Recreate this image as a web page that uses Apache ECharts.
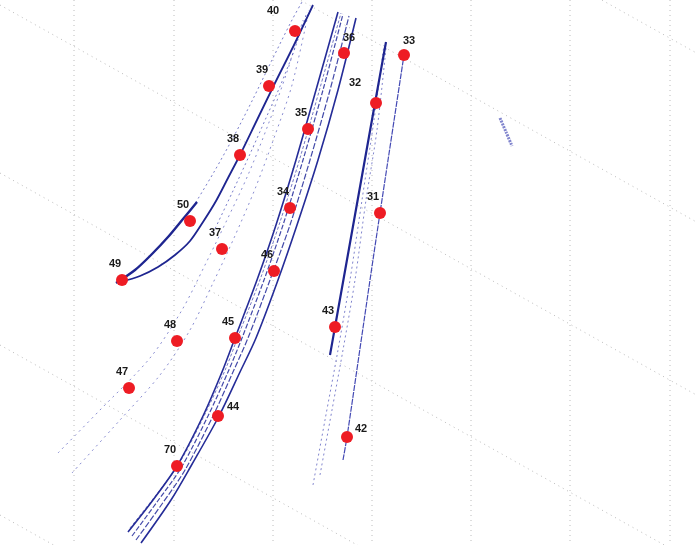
<!DOCTYPE html>
<html>
<head>
<meta charset="utf-8">
<script src="https://cdn.jsdelivr.net/npm/echarts@6/dist/echarts.min.js"></script>
<style>
  html, body { margin: 0; padding: 0; background: #fff; }
  #chart { width: 698px; height: 545px; }
</style>
</head>
<body>
<div id="chart"></div>
<script>
// stations (image units, y grows downward)
var stationNames = ['40', '39', '38', '35', '34', '37', '50', '49', '46', '36', '33', '32', '31', '43', '48', '45', '47', '44', '70', '42']
var stationX = [295, 269, 240, 308, 290, 222, 190, 122, 274, 344, 404, 376, 380, 335, 177, 235, 129, 218, 177, 347]
var stationY = [31, 86, 155, 129, 208, 249, 221, 280, 271, 53, 55, 103, 213, 327, 341, 338, 388, 416, 466, 437]

// graticule
var meridianX = [74, 174, 273, 372, 471, 570, 670]
var parallelY0 = [-337, -168, 5, 173, 345, 515]
var parallelSlope = 0.56

// tracks, left arc
var arcShort = [[116, 283], [135, 270], [152, 254], [168, 237], [183, 219], [197, 202]]
var arcLong = [[120, 282], [140, 276], [158, 267], [175, 255], [190, 241], [203, 222], [216, 201], [228, 178], [240, 155], [257, 120], [275, 83], [294, 45], [313, 5]]
var arcFaint1 = [[193, 207], [214, 172], [234, 136], [253, 99], [272, 60], [292, 20], [302, 2]]
var arcFaint2 = [[213, 233], [232, 193], [250, 154], [266, 118], [281, 84], [295, 48], [307, 12]]
var arcFaint3 = [[58, 453], [100, 410], [150, 358], [182, 310], [205, 265], [226, 222], [248, 175], [268, 125], [287, 72], [303, 20]]
var arcFaint4 = [[72, 473], [120, 420], [160, 375], [190, 330], [213, 283], [234, 238], [255, 189], [274, 138], [292, 85], [309, 10]]

// tracks, middle bundle
var midTrack1 = [[128, 532], [153, 500], [177, 466], [203, 416], [222, 372], [235, 338], [257, 280], [276, 225], [296, 160], [316, 90], [338, 12]]
var midTrack2 = [[132, 536], [157, 502], [181, 468], [208, 416], [228, 372], [242, 338], [264, 280], [283, 225], [303, 160], [323, 90], [343, 14]]
var midTrack3 = [[136, 540], [162, 504], [185, 470], [213, 416], [233, 372], [248, 338], [270, 280], [290, 225], [310, 160], [330, 90], [349, 16]]
var midTrack4 = [[141, 543], [171, 500], [191, 466], [219, 416], [240, 372], [256, 338], [278, 280], [297, 225], [318, 160], [338, 90], [356, 18]]
var midTrack5 = [[130, 528], [156, 495], [180, 462], [206, 412], [226, 368], [239, 334], [261, 277], [280, 222], [300, 158], [320, 88], [341, 13]]

// tracks, right pair
var rightMain = [[330, 355], [335, 327], [375, 103], [386, 42]]
var rightThin = [[343, 460], [347, 437], [370, 280], [380, 213], [404, 55]]
var rightFaint1 = [[313, 485], [325, 420], [338, 350], [350, 280], [362, 200], [374, 120], [384, 45]]
var rightFaint2 = [[320, 475], [332, 410], [343, 350], [355, 280], [366, 200], [377, 130], [386, 48]]

// small streak
var streak = [[500, 118], [506, 132], [512, 146]]

var labelShift = {
  '40': [-22, -4], '32': [-21, -4], '36': [5, 1], '33': [5, 2], '44': [15, 7], '42': [14, 8]
}

var chart = echarts.init(document.getElementById('chart'))

var series = []

meridianX.forEach(function(x) {
  series.push({
    type: 'line', silent: true, symbol: 'none',
    data: [[x, 0], [x, 545]],
    lineStyle: { color: '#bcbcbc', width: 1, type: [1, 4] }
  })
})
parallelY0.forEach(function(b) {
  series.push({
    type: 'line', silent: true, symbol: 'none',
    data: [[0, b], [698, b + parallelSlope * 698]],
    lineStyle: { color: '#bcbcbc', width: 1, type: [1, 4] }
  })
})

function track(data, width, color, type, opacity) {
  series.push({
    type: 'line', silent: true, symbol: 'none', smooth: 0.3,
    data: data,
    lineStyle: { color: color, width: width, type: type || 'solid', opacity: opacity == null ? 1 : opacity }
  })
}

track(arcFaint1, 1, '#4a50b8', [2, 3], 0.75)
track(arcFaint2, 1, '#4a50b8', [2, 3], 0.75)
track(arcFaint3, 1, '#4a50b8', [2, 4], 0.65)
track(arcFaint4, 1, '#4a50b8', [2, 4], 0.65)
track(arcShort, 2.4, '#1e2590')
track(arcLong, 1.8, '#1e2590')

track(midTrack5, 1, '#3a40a8', [3, 2], 0.7)
track(midTrack1, 1.6, '#252c98')
track(midTrack2, 1.2, '#2e35a0', [5, 2], 0.9)
track(midTrack3, 1.2, '#2e35a0', [6, 2], 0.9)
track(midTrack4, 1.6, '#252c98')

track(rightFaint1, 1, '#4a50b8', [2, 3], 0.7)
track(rightFaint2, 1, '#4a50b8', [2, 3], 0.7)
track(rightThin, 1.2, '#3a40b0', [6, 1], 0.95)
track(rightMain, 2.2, '#1e2590')

track(streak, 3, '#4a50b8', [2, 1], 0.7)

series.push({
  type: 'scatter',
  symbolSize: 12,
  itemStyle: { color: '#ee1c24', opacity: 1 },
  z: 5,
  data: stationNames.map(function(name, i) {
    var shift = labelShift[name] || [-7, 0]
    return {
      name: name,
      value: [stationX[i], stationY[i]],
      label: { offset: shift }
    }
  }),
  label: {
    show: true,
    position: 'top',
    distance: 5,
    formatter: '{b}',
    color: '#1a1a1a',
    fontSize: 11,
    fontWeight: 'bold',
    fontFamily: 'Liberation Sans, Arial, sans-serif'
  }
})

chart.setOption({
  animation: false,
  backgroundColor: '#fff',
  grid: { left: 0, right: 0, top: 0, bottom: 0 },
  xAxis: { type: 'value', min: 0, max: 698, show: false },
  yAxis: { type: 'value', min: 0, max: 545, inverse: true, show: false },
  series: series
})
</script>
</body>
</html>
